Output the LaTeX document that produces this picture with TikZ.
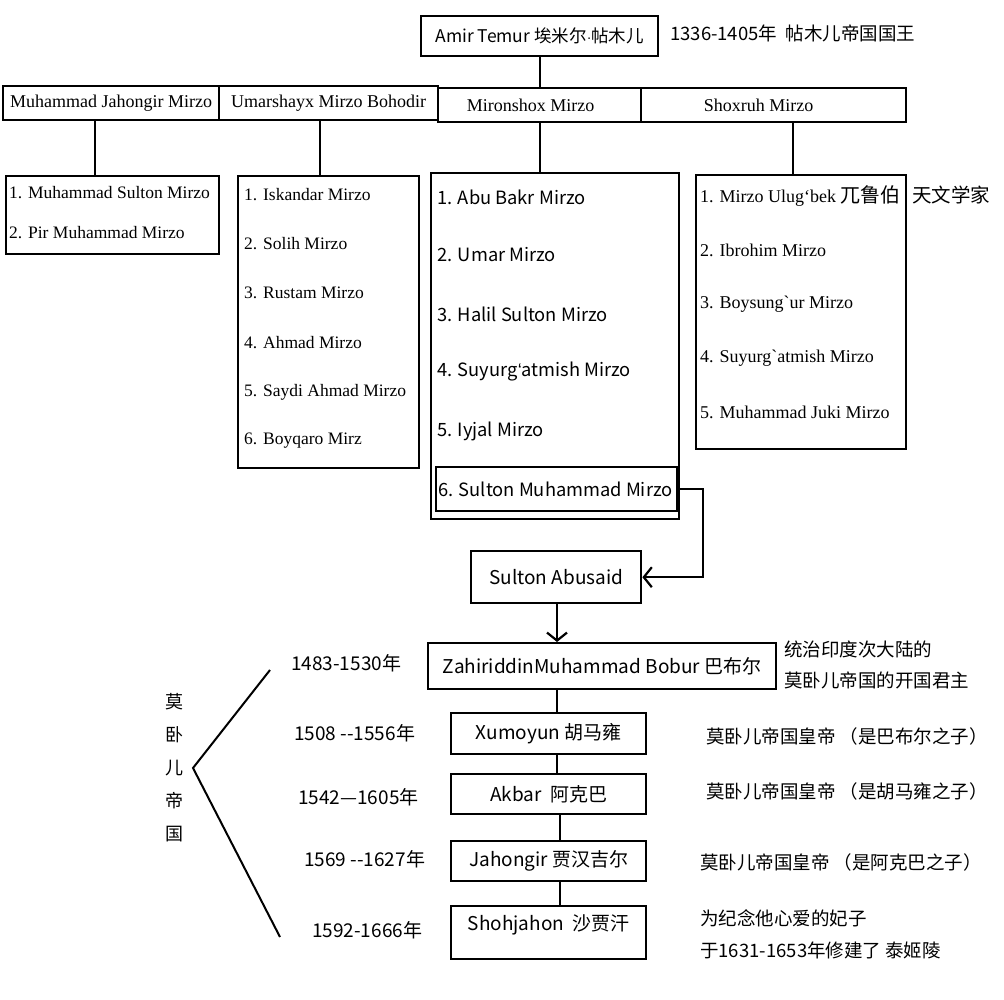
\documentclass[tikz,border=0pt]{standalone}
\usepackage{fontspec}
\setmainfont{Liberation Serif}
\newfontfamily\cjk{Noto Sans CJK SC}
\newfontfamily\lsans{Liberation Sans}
\newfontfamily\sergrave{Liberation Serif}[Ligatures=TeXOff]
\usetikzlibrary{arrows.meta}
\begin{document}
\begin{tikzpicture}[x=1pt,y=-1pt,
  box/.style={draw, line width=2.4pt, inner sep=0pt, anchor=north west},
  conn/.style={line width=2.4pt},
  thin/.style={line width=1.8pt},
  barb/.style={-{Straight Barb[length=8pt,width=20pt,line width=2.2pt]}},
  rowf/.style={font=\fontsize{18}{20}\selectfont},
  ser/.style={font=\fontsize{17.5}{20}\selectfont},
  ser4/.style={font=\fontsize{18}{20}\selectfont},
  san/.style={font=\cjk\fontsize{18.3}{20}\selectfont},
  boxf/.style={font=\cjk\fontsize{19}{21}\selectfont},
  note/.style={font=\cjk\fontsize{18.5}{20}\selectfont},
  datef/.style={font=\cjk\fontsize{19}{21}\selectfont},
  item/.style={anchor=west, inner sep=0pt}]
\useasboundingbox[fill=white] (0,0) rectangle (1004,1000);

% Amir Temur
\node[box, font=\cjk\fontsize{17.5}{20}\selectfont, minimum width=237pt, minimum height=40pt] (amir) at (420,15) {Amir Temur 埃米尔{\lsans\fontsize{14}{16}\selectfont ·}帖木儿};
\node[item, note] (amirnote) at (670,33) {1336-1405年\ \ 帖木儿帝国国王};

% sons row
\node[box, rowf, minimum width=216pt, minimum height=34pt] (mj) at (2,85) {Muhammad Jahongir Mirzo};
\node[box, rowf, minimum width=219pt, minimum height=34pt] (um) at (218,85) {Umarshayx Mirzo Bohodir};
\node[box, rowf, minimum width=203pt, minimum height=34pt] (mi) at (437,87) {\hspace*{-18pt}Mironshox Mirzo};
\node[box, rowf, minimum width=265pt, minimum height=34pt] (sh) at (640,87) {\hspace*{-30pt}Shoxruh Mirzo};

\draw[conn] (amir.south) -- (amir.south |- mi.north);

% list 1
\node[box, minimum width=213pt, minimum height=78pt] (l1) at (5,175) {};
\node[item, ser] (l1a) at (9,193) {1. Muhammad Sulton Mirzo};
\node[item, ser] (l1b) at (9,233) {2. Pir Muhammad Mirzo};
\draw[conn] (95,0 |- mj.south) -- (95,0 |- l1.north);

% list 2
\node[box, minimum width=181pt, minimum height=292pt] (l2) at (237,175) {};
\node[item, ser] (l2a) at (244,195) {1. Iskandar Mirzo};
\node[item, ser] (l2b) at (244,244) {2. Solih Mirzo};
\node[item, ser] (l2c) at (244,293) {3. Rustam Mirzo};
\node[item, ser] (l2d) at (244,343) {4. Ahmad Mirzo};
\node[item, ser] (l2e) at (244,392) {5. Saydi Ahmad Mirzo};
\node[item, ser] (l2f) at (244,441) {6. Boyqaro Mirz};
\draw[conn] (320,0 |- um.south) -- (320,0 |- l2.north);

% list 3
\node[box, minimum width=248pt, minimum height=346pt] (l3) at (430,172) {};
\node[item, san] (l3a) at (437,197) {1. Abu Bakr Mirzo};
\node[item, san] (l3b) at (437,255) {2. Umar Mirzo};
\node[item, san] (l3c) at (437,314) {3. Halil Sulton Mirzo};
\node[item, san] (l3d) at (437,372) {4. Suyurg{\lsans ‘}atmish Mirzo};
\node[item, san] (l3e) at (437,431) {5. Iyjal Mirzo};
\node[box, san, minimum width=241pt, minimum height=44pt] (l3f) at (435,466) {\makebox[237pt][l]{6. Sulton Muhammad Mirzo}};
\draw[conn] (540,0 |- mi.south) -- (540,0 |- l3.north);

% list 4
\node[box, minimum width=210pt, minimum height=274pt] (l4) at (695,174) {};
\node[item, ser4] (l4a) at (700,196) {1. Mirzo Ulug‘bek {\cjk\fontsize{20}{22}\selectfont 兀鲁伯}};
\node[item, ser4] (l4b) at (700,250) {2. Ibrohim Mirzo};
\node[item, ser4] (l4c) at (700,304) {3. Boysung{\sergrave `}ur Mirzo};
\node[item, ser4] (l4d) at (700,358) {4. Suyurg{\sergrave `}atmish Mirzo};
\node[item, ser4] (l4e) at (700,412) {5. Muhammad Juki Mirzo};
\node[item, font=\cjk\fontsize{19.5}{21}\selectfont] (l4note) at (912,195) {天文学家};
\draw[conn] (793,0 |- sh.south) -- (793,0 |- l4.north);

% Sulton Abusaid
\node[box, boxf, minimum width=170pt, minimum height=52pt] (ab) at (470,550) {Sulton Abusaid};
\coordinate (c1) at (703,0 |- l3f.east);
\draw[conn, barb] (l3f.east) -- (c1) -- (c1 |- ab.east) -- (ab.east);

% Bobur
\node[box, boxf, minimum width=348pt, minimum height=46pt] (bo) at (427,642) {ZahiriddinMuhammad Bobur 巴布尔};
\draw[thin, barb] (557,0 |- ab.south) -- (557,0 |- bo.north);
\node[item, note] (bonote1) at (784,649) {统治印度次大陆的};
\node[item, note] (bonote2) at (784,680) {莫卧儿帝国的开国君主};
\node[item, datef] (bodate) at (291,663) {1483-1530年};

% Xumoyun
\node[box, boxf, minimum width=195pt, minimum height=41pt] (xu) at (450,712) {Xumoyun 胡马雍};
\draw[thin] (557,0 |- bo.south) -- (557,0 |- xu.north);
\node[item, datef] (xudate) at (294,733) {1508 --1556年};
\node[item, note] (xunote) at (706,736) {莫卧儿帝国皇帝 （是巴布尔之子）};

% Akbar
\node[box, boxf, minimum width=195pt, minimum height=40pt] (ak) at (450,773) {Akbar\ \ 阿克巴};
\draw[thin] (557,0 |- xu.south) -- (557,0 |- ak.north);
\node[item, datef] (akdate) at (298,797) {1542—1605年};
\node[item, note] (aknote) at (706,791) {莫卧儿帝国皇帝 （是胡马雍之子）};

% Jahongir
\node[box, boxf, minimum width=195pt, minimum height=40pt] (ja) at (450,840) {Jahongir 贾汉吉尔};
\draw[thin] (560,0 |- ak.south) -- (560,0 |- ja.north);
\node[item, datef] (jadate) at (304,859) {1569 --1627年};
\node[item, note] (janote) at (700,862) {莫卧儿帝国皇帝 （是阿克巴之子）};

% Shohjahon
\node[box, boxf, minimum width=195pt, minimum height=53pt, text height=14pt, text depth=19pt] (so) at (450,905) {Shohjahon\ \ 沙贾汗};
\draw[thin] (560,0 |- ja.south) -- (560,0 |- so.north);
\node[item, datef] (sodate) at (312,930) {1592-1666年};
\node[item, note] (sonote1) at (700,918) {为纪念他心爱的妃子};
\node[item, note] (sonote2) at (700,950) {于1631-1653年修建了 泰姬陵};

% bracket
\draw[line width=2pt] (270,670) -- (193,768) -- (280,937);
\node[align=center, font=\cjk\fontsize{18}{33}\selectfont] (mughal) at (174,768) {莫\\卧\\儿\\帝\\国};
\end{tikzpicture}
\end{document}
